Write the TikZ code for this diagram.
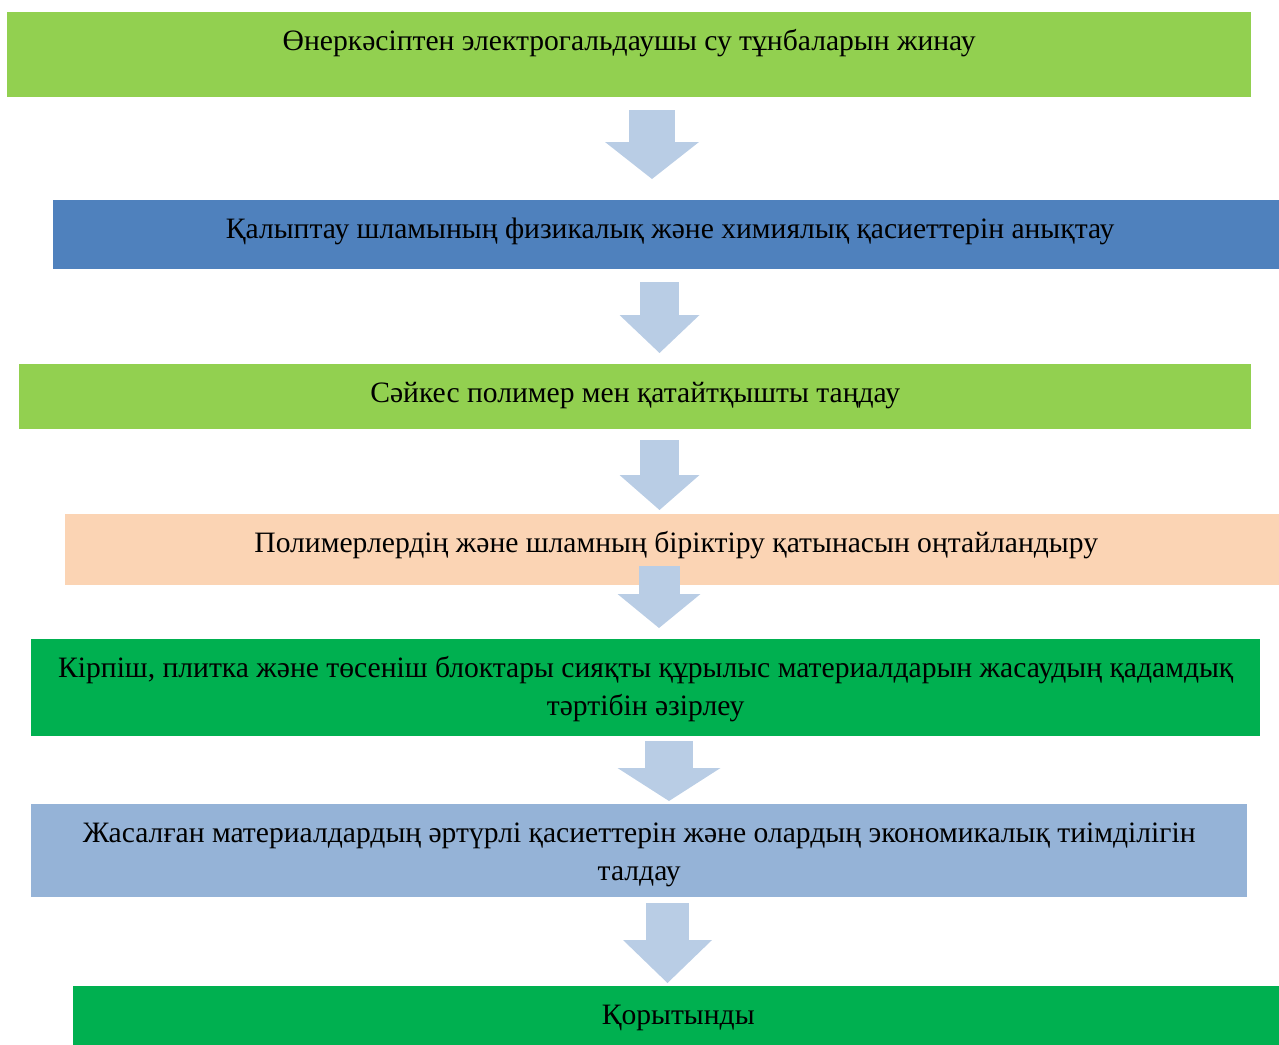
\documentclass[tikz,border=0pt]{standalone}
\usepackage{fontspec}
\setmainfont{Liberation Serif}
\usepackage{xcolor}
\usepackage{tikz}
\usetikzlibrary{arrows.meta, positioning, calc}

\definecolor{lightgreen}{HTML}{92D050}
\definecolor{darkgreen}{HTML}{00B050}
\definecolor{steelblue}{HTML}{4F81BD}
\definecolor{paleblue}{HTML}{95B3D7}
\definecolor{peach}{HTML}{FBD4B4}
\definecolor{arrowblue}{HTML}{B9CDE5}

\begin{document}
\begin{tikzpicture}[
    x=1pt, y=-1pt,
    base/.style = {
        rectangle, anchor=north west,
        inner xsep=0pt, inner ysep=0pt,
        text height=38pt, text centered, text=black,
        font=\fontsize{29.6}{38}\selectfont
    },
    lgreen/.style = {base, fill=lightgreen},
    dgreen/.style = {base, fill=darkgreen},
    blue/.style   = {base, fill=steelblue},
    pale/.style   = {base, fill=paleblue},
    orange/.style = {base, fill=peach},
    arr/.style n args = {3}{
        draw=arrowblue, line width=#1,
        -{Triangle[width=#2, length=#3, line width=0pt]}
    }
]
\useasboundingbox (0,0) rectangle (1279,1044);
% steps
\node[lgreen, minimum width=1244pt, text depth=47pt] (collect) at (7,12)
    {Өнеркәсіптен электрогальдаушы су тұнбаларын жинау};
\node[blue, minimum width=1234pt, text depth=31pt] (props) at (53,200)
    {Қалыптау шламының физикалық және химиялық қасиеттерін анықтау};
\node[lgreen, minimum width=1232pt, text depth=27pt] (select) at (19,364)
    {Сәйкес полимер мен қатайтқышты таңдау};
\node[orange, minimum width=1222pt, text depth=33pt] (ratio) at (65,514)
    {Полимерлердің және шламның біріктіру қатынасын оңтайландыру};
\node[dgreen, minimum width=1229pt, text depth=59pt] (make) at (31,639)
    {\begin{tabular}[t]{c}Кірпіш, плитка және төсеніш блоктары сияқты құрылыс материалдарын жасаудың қадамдық\\тәртібін әзірлеу\end{tabular}};
\node[pale, minimum width=1216pt, text depth=55pt] (analyse) at (31,804)
    {\begin{tabular}[t]{c}Жасалған материалдардың әртүрлі қасиеттерін және олардың экономикалық тиімділігін\\талдау\end{tabular}};
\node[dgreen, minimum width=1210pt, text depth=32pt] (concl) at (73,986)
    {Қорытынды};
% arrow columns
\coordinate (c1) at (652,0);
\coordinate (c2) at (659.5,0);
\coordinate (c3) at (659.5,0);
\coordinate (c4) at (659,0);
\coordinate (c5) at (669,0);
\coordinate (c6) at (667.5,0);
\draw[arr={46pt}{94pt}{37pt}, shorten <=13pt, shorten >=21pt] (c1 |- collect.south) -- (c1 |- props.north);
\draw[arr={39pt}{80pt}{38pt}, shorten <=13pt, shorten >=11pt] (c2 |- props.south) -- (c2 |- select.north);
\draw[arr={39pt}{80pt}{35pt}, shorten <=11pt, shorten >=4pt] (c3 |- select.south) -- (c3 |- ratio.north);
\draw[arr={41pt}{83pt}{34pt}, shorten <=-19pt, shorten >=11pt] (c4 |- ratio.south) -- (c4 |- make.north);
\draw[arr={48pt}{103pt}{33pt}, shorten <=5pt, shorten >=3pt] (c5 |- make.south) -- (c5 |- analyse.north);
\draw[arr={43pt}{89pt}{43pt}, shorten <=6pt, shorten >=3pt] (c6 |- analyse.south) -- (c6 |- concl.north);
\end{tikzpicture}
\end{document}
